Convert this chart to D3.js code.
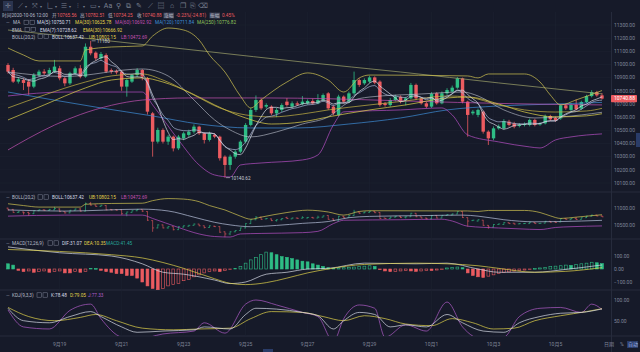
<!DOCTYPE html>
<html>
<head>
<meta charset="utf-8">
<script src="https://cdn.jsdelivr.net/npm/d3@7"></script>
<style>
  body { margin: 0; background: #161a29; overflow: hidden; }
  text { font-family: Roboto, "Noto Sans CJK SC", sans-serif; }
</style>
</head>
<body>
<div id="chart"></div>
<script>
// 4h candles, 2020-09-17 08:00 -> 2020-10-06 12:00
var opens = [10996,10958,10870,10882,10870,10832,10920,10946,10930,10946,
  10971,10895,10857,10933,10971,10908,11135,11090,11047,11072,
  10958,10950,10946,10832,10870,10920,10958,10895,10629,10414,
  10503,10414,10452,10363,10439,10465,10490,10528,10477,10427,
  10465,10452,10300,10237,10300,10338,10414,10541,10655,10730,
  10680,10680,10629,10655,10718,10680,10705,10700,10705,10723,
  10705,10730,10781,10680,10617,10756,10718,10781,10882,10857,
  10870,10902,10870,10705,10692,10730,10756,10730,10743,10845,
  10743,10705,10680,10781,10705,10781,10794,10824,10895,10718,
  10629,10617,10642,10490,10439,10515,10515,10566,10553,10533,
  10541,10541,10579,10545,10553,10609,10595,10591,10690,10655,
  10693,10665,10715,10760,10790,10765.56];
var highs = [11010,10975,10905,10895,10890,10935,10960,10965,10975,11035,
  10990,10905,10945,10985,10995,11160,11180,11100,11095,11085,
  10970,10962,10955,10895,10930,10972,10965,10905,10640,10520,
  10515,10465,10460,10465,10490,10505,10545,10535,10485,10490,
  10478,10460,10310,10315,10350,10425,10555,10670,10765,10745,
  10705,10690,10670,10705,10745,10720,10720,10760,10735,10740,
  10775,10780,10790,10690,10770,10765,10795,10946,10895,10895,
  10915,10910,10880,10715,10745,10770,10765,10755,10860,10855,
  10750,10715,10790,10790,10795,10820,10840,10905,10900,10725,
  10655,10665,10650,10500,10530,10545,10585,10580,10565,10555,
  10560,10590,10588,10562,10620,10618,10605,10700,10700,10705,
  10735,10725,10770,10805,10800,10782.51];
var lows = [10930,10860,10855,10806,10770,10820,10905,10920,10915,10935,
  10880,10835,10845,10920,10895,10900,11070,11030,11035,10935,
  10930,10925,10800,10756,10860,10905,10880,10620,10300,10400,
  10400,10390,10340,10350,10425,10450,10475,10465,10400,10415,
  10440,10270,10140.62,10200,10285,10325,10400,10530,10640,10655,
  10665,10615,10600,10640,10680,10670,10685,10690,10695,10695,
  10698,10720,10655,10615,10605,10705,10710,10770,10830,10845,
  10860,10850,10680,10680,10680,10720,10705,10690,10735,10730,
  10695,10668,10670,10695,10698,10770,10785,10815,10705,10452,
  10615,10600,10475,10389,10425,10505,10505,10530,10515,10522,
  10530,10530,10530,10535,10545,10572,10565,10580,10655,10645,
  10650,10655,10705,10750,10755,10734.25];
var closes = [10946,10870,10887,10860,10832,10920,10946,10933,10958,10984,
  10895,10857,10933,10971,10908,11135,11085,11047,11080,10946,
  10946,10940,10832,10882,10920,10958,10908,10642,10414,10503,
  10414,10452,10363,10452,10477,10490,10528,10477,10427,10477,
  10452,10288,10237,10300,10338,10414,10541,10655,10730,10667,
  10692,10629,10655,10692,10692,10705,10695,10718,10723,10705,
  10730,10768,10667,10629,10756,10718,10781,10882,10845,10882,
  10902,10862,10692,10692,10730,10756,10718,10743,10845,10743,
  10705,10680,10776,10705,10781,10806,10824,10895,10718,10617,
  10642,10655,10490,10439,10515,10530,10571,10541,10528,10541,
  10548,10579,10541,10550,10609,10584,10575,10690,10667,10693,
  10660,10715,10760,10790,10765.56,10740.88];

// long averages, as [candle index, price]
var ma30 = [[0,10579],[7,10693],[15,10822],[20,10882],[26,10898],[30,10867],[35,10791],[40,10693],[46,10594],[51,10548],[57,10564],[62,10602],[70,10655],[77,10693],[85,10746],[89,10753],[95,10700],[100,10639],[106,10602],[112,10610],[115,10626]];
var ema30 = [[0,10670],[7,10768],[15,10867],[20,10913],[26,10928],[30,10882],[36,10768],[41,10670],[46,10617],[51,10602],[57,10624],[62,10655],[70,10693],[77,10723],[85,10761],[89,10753],[95,10693],[100,10655],[106,10639],[112,10647],[115,10667]];
var ma60 = [[0,10351],[4,10440],[9,10540],[14,10620],[20,10690],[26,10730],[35,10746],[50,10746],[62,10740],[75,10725],[87,10712],[98,10702],[115,10693]];
var ma120 = [[0,10791],[18,10670],[28,10609],[37,10548],[47,10518],[56,10518],[66,10548],[76,10594],[85,10655],[95,10685],[106,10700],[115,10712]];
var ma250 = [[0,11262],[19,11182],[38,11101],[57,11019],[76,10943],[95,10860],[115,10777]];
var bollUp = [[0,11125],[3,11072],[6,11027],[14,11027],[15,11110],[20,11133],[26,11141],[28,11216],[31,11277],[34,11262],[37,11186],[39,11072],[42,10943],[45,10760],[47,10670],[49,10731],[54,10867],[58,10936],[62,10882],[65,10791],[68,10898],[70,10920],[89,10913],[91,10898],[93,10928],[100,10928],[103,10867],[105,10768],[107,10693],[110,10731],[115,10802]];
var bollMid = [[0,10943],[11,10909],[26,10966],[31,10913],[36,10731],[40,10579],[43,10503],[47,10450],[52,10488],[57,10548],[62,10602],[66,10715],[70,10753],[80,10776],[88,10791],[91,10761],[96,10655],[102,10594],[107,10602],[115,10637]];
var bollLow = [[0,10761],[11,10791],[26,10791],[28,10693],[33,10427],[37,10237],[40,10161],[43,10146],[45,10237],[49,10252],[57,10275],[60,10313],[63,10541],[65,10640],[76,10655],[84,10670],[86,10617],[89,10465],[95,10412],[101,10374],[103,10366],[106,10427],[109,10450],[115,10473]];

var macdHist = [40,30,-10,-20,-15,-25,-20,-15,-25,-20,
  -15,-30,-30,-20,-25,-20,5,3,-10,-20,
  -25,-35,-35,-50,-50,-70,-100,-130,-150,-160,
  -150,-130,-120,-110,-90,-80,-60,-45,-30,-20,
  -15,-20,-10,-5,5,20,45,70,90,110,
  130,125,110,95,90,80,70,60,55,40,
  30,20,10,5,8,10,12,15,20,22,
  25,20,-5,-15,-20,-18,-15,-12,-15,-18,
  -15,-10,-12,-8,-5,8,12,15,10,-30,
  -50,-60,-65,-55,-45,-35,-28,-22,-16,-12,
  -8,-4,3,8,12,18,22,25,30,28,
  35,40,45,52,48,41.45];
var dif = [[0,170],[10,125],[20,100],[26,40],[30,-25],[34,-40],[40,-85],[43,-112],[46,-100],[50,-40],[54,-25],[58,0],[62,5],[69,45],[79,40],[85,45],[91,0],[95,-25],[102,-25],[108,-3],[115,31.07]];
var dea = [[0,150],[10,135],[20,110],[26,85],[30,50],[34,5],[40,-75],[43,-110],[46,-120],[50,-105],[54,-70],[58,-30],[62,0],[69,35],[79,45],[85,40],[91,25],[95,5],[102,-25],[108,-18],[115,10.35]];

var kLine = [[0,80],[3,50],[8,45],[12,60],[16,72],[18,60],[22,35],[25,22],[30,25],[36,28],[38,35],[43,30],[46,65],[48,80],[52,78],[57,70],[60,62],[63,30],[65,50],[68,70],[71,65],[74,35],[77,40],[81,35],[85,65],[88,45],[92,25],[96,22],[99,45],[103,60],[107,68],[111,70],[115,78.48]];
var dLine = [[0,82],[4,60],[9,50],[14,58],[17,65],[21,50],[26,32],[32,28],[37,30],[43,32],[47,55],[51,72],[57,70],[61,60],[65,50],[69,62],[73,55],[77,42],[82,38],[86,55],[90,45],[94,30],[98,32],[102,50],[107,62],[112,72],[115,79.05]];
var jLine = [[0,76],[3,35],[8,30],[12,75],[16,90],[18,55],[22,10],[25,5],[30,18],[36,25],[38,45],[42,20],[46,90],[48,100],[52,88],[57,70],[60,60],[63,0],[65,55],[68,88],[71,80],[73,10],[77,40],[81,25],[85,95],[88,35],[92,5],[96,10],[99,60],[103,80],[107,82],[111,70],[113,90],[115,77.33]];

var priceTicks = [10100,10200,10300,10400,10500,10600,10700,10800,10900,11000,11100,11200,11300];
var bollTicks = [10500, 11000];
var macdTicks = [-100, 0, 100];
var kdjTicks = [50, 100];
var dateTicks = ["2020-09-19","2020-09-21","2020-09-23","2020-09-25","2020-09-27","2020-09-29","2020-10-01","2020-10-03","2020-10-05"];

var W = 640, H = 352;
var bg = "#161a29", upColor = "#2ebd85", downColor = "#ec5b60";
var axisColor = "#80869a", sepColor = "#262b3c";
var white = "#d9dde8", yellow = "#e3d44a", magenta = "#c451b4", blue = "#3e8ed8";

var svg = d3.select("#chart").append("svg").attr("width", W).attr("height", H);
svg.append("rect").attr("width", W).attr("height", H).attr("fill", bg);

var startTime = new Date(2020, 8, 17, 8);
function timeAt(i) { return new Date(startTime.getTime() + i * 4 * 3600 * 1000); }
var n = closes.length;
var x = d3.scaleTime().domain([timeAt(0), timeAt(n - 1)]).range([8, 602]);
function xi(i) { return x(timeAt(i)); }

var yMain = d3.scaleLinear().domain([10100, 11300]).range([183, 25]);
var yBoll = d3.scaleLinear().domain([10500, 11000]).range([225, 208]);
var yMacd = d3.scaleLinear().domain([-100, 100]).range([282, 256]);
var yKdj = d3.scaleLinear().domain([50, 100]).range([320.7, 300]);

// clip areas for each pane
var defs = svg.append("defs");
function clip(id, top, bottom) {
  defs.append("clipPath").attr("id", id).append("rect")
    .attr("x", 0).attr("y", top).attr("width", 611).attr("height", bottom - top);
  return svg.append("g").attr("clip-path", "url(#" + id + ")");
}

// separators
[192, 239, 290, 336].forEach(function(y) {
  svg.append("line").attr("x1", 0).attr("x2", W).attr("y1", y).attr("y2", y)
    .attr("stroke", sepColor).attr("stroke-width", 1);
});
svg.append("line").attr("x1", 611.5).attr("x2", 611.5).attr("y1", 12).attr("y2", 352)
  .attr("stroke", sepColor);

// faint grid
priceTicks.forEach(function(p) {
  svg.append("line").attr("x1", 0).attr("x2", 611).attr("y1", yMain(p)).attr("y2", yMain(p))
    .attr("stroke", "#1c2131").attr("stroke-width", 0.6);
});
var dates = dateTicks.map(function(s) { var a = s.split("-"); return new Date(+a[0], +a[1] - 1, +a[2]); });
dates.forEach(function(d) {
  svg.append("line").attr("x1", x(d)).attr("x2", x(d)).attr("y1", 12).attr("y2", 336)
    .attr("stroke", "#1c2131").attr("stroke-width", 0.6);
});

function lineOf(pts, yScale, color, w, g) {
  g.append("path").datum(pts)
    .attr("fill", "none").attr("stroke", color).attr("stroke-width", w || 0.7)
    .attr("d", d3.line()
      .x(function(d) { return xi(d[0]); })
      .y(function(d) { return yScale(d[1]); })
      .curve(d3.curveMonotoneX));
}

// ---- main pane
var main = clip("clipMain", 12, 192);
main.selectAll(".wick").data(d3.range(n)).join("line")
  .attr("x1", xi).attr("x2", xi)
  .attr("y1", function(i) { return yMain(highs[i]); })
  .attr("y2", function(i) { return yMain(lows[i]); })
  .attr("stroke", function(i) { return closes[i] >= opens[i] ? upColor : downColor; })
  .attr("stroke-width", 0.8);
main.selectAll(".body").data(d3.range(n)).join("rect")
  .attr("x", function(i) { return xi(i) - 1.7; })
  .attr("width", 3.4)
  .attr("y", function(i) { return yMain(Math.max(opens[i], closes[i])); })
  .attr("height", function(i) { return Math.max(0.8, Math.abs(yMain(opens[i]) - yMain(closes[i]))); })
  .attr("fill", function(i) { return closes[i] >= opens[i] ? upColor : downColor; });

var ma5 = closes.map(function(c, i) { return [i, d3.mean(closes.slice(Math.max(0, i - 4), i + 1))]; });
var ema7 = [];
closes.forEach(function(c, i) {
  var prev = i ? ema7[i - 1][1] : c;
  ema7.push([i, prev + (c - prev) * 2 / 8]);
});

lineOf(ma250, yMain, "#a2a66c", 0.7, main);
lineOf(ma120, yMain, blue, 0.7, main);
lineOf(ma60, yMain, magenta, 0.7, main);
lineOf(bollLow, yMain, "#b64fc4", 0.7, main);
lineOf(bollUp, yMain, "#d3c552", 0.7, main);
lineOf(bollMid, yMain, "#c3c8d4", 0.6, main);
lineOf(ma30, yMain, yellow, 0.7, main);
lineOf(ema30, yMain, "#c7b544", 0.7, main);
lineOf(ema7, yMain, "#a9b6d6", 0.7, main);
lineOf(ma5, yMain, white, 0.7, main);

// high / low marks
function mark(i, price, label) {
  var px = xi(i), py = yMain(price);
  svg.append("line").attr("x1", px + 1).attr("x2", px + 5).attr("y1", py).attr("y2", py)
    .attr("stroke", "#c8ccd6").attr("stroke-width", 0.6);
  svg.append("text").attr("x", px + 6).attr("y", py + 2.4).attr("font-size", 4.7)
    .attr("fill", "#c8ccd6").text(label);
}
mark(16, highs[16], "11180");
mark(42, lows[42], "10140.62");

// ---- BOLL pane (bars)
var bp = clip("clipBoll", 192, 239);
bp.selectAll(".hl").data(d3.range(n)).join("line")
  .attr("x1", xi).attr("x2", xi)
  .attr("y1", function(i) { return yBoll(highs[i]); })
  .attr("y2", function(i) { return yBoll(lows[i]); })
  .attr("stroke", function(i) { return closes[i] >= opens[i] ? upColor : downColor; })
  .attr("stroke-width", 0.6);
bp.selectAll(".op").data(d3.range(n)).join("line")
  .attr("x1", function(i) { return xi(i) - 1.5; }).attr("x2", xi)
  .attr("y1", function(i) { return yBoll(opens[i]); })
  .attr("y2", function(i) { return yBoll(opens[i]); })
  .attr("stroke", function(i) { return closes[i] >= opens[i] ? upColor : downColor; })
  .attr("stroke-width", 0.6);
bp.selectAll(".cl").data(d3.range(n)).join("line")
  .attr("x1", xi).attr("x2", function(i) { return xi(i) + 1.5; })
  .attr("y1", function(i) { return yBoll(closes[i]); })
  .attr("y2", function(i) { return yBoll(closes[i]); })
  .attr("stroke", function(i) { return closes[i] >= opens[i] ? upColor : downColor; })
  .attr("stroke-width", 0.6);
lineOf(bollUp, yBoll, "#d3c552", 0.7, bp);
lineOf(bollMid, yBoll, "#b9c3dc", 0.7, bp);
lineOf(bollLow, yBoll, "#b64fc4", 0.7, bp);

// ---- MACD pane
var mp = clip("clipMacd", 239, 290);
mp.selectAll("rect").data(macdHist).join("rect")
  .attr("x", function(d, i) { return xi(i) - 1.4; })
  .attr("width", 2.8)
  .attr("y", function(d) { return yMacd(Math.max(0, d)); })
  .attr("height", function(d) { return Math.max(0.6, Math.abs(yMacd(d) - yMacd(0))); })
  .attr("fill", function(d, i) {
    var rising = i > 0 && d > macdHist[i - 1];
    return rising ? "none" : (d >= 0 ? upColor : downColor);
  })
  .attr("stroke", function(d) { return d >= 0 ? upColor : downColor; })
  .attr("stroke-width", 0.6);
lineOf(dif, yMacd, white, 0.7, mp);
lineOf(dea, yMacd, yellow, 0.7, mp);

// ---- KDJ pane
var kp = clip("clipKdj", 290, 336);
lineOf(jLine, yKdj, "#b05cc9", 0.7, kp);
lineOf(dLine, yKdj, yellow, 0.7, kp);
lineOf(kLine, yKdj, white, 0.7, kp);

// ---- right axes
function axisLabels(ticks, yScale, fmt) {
  ticks.forEach(function(t) {
    svg.append("text").attr("x", 614).attr("y", yScale(t) + 1.8)
      .attr("font-size", 5).attr("fill", axisColor).text(fmt(t));
  });
}
var f2 = d3.format(".2f");
axisLabels(priceTicks, yMain, f2);
axisLabels(bollTicks, yBoll, f2);
axisLabels(macdTicks, yMacd, f2);
axisLabels(kdjTicks, yKdj, f2);

// last price tag
var last = closes[n - 1];
svg.append("rect").attr("x", 611).attr("y", yMain(last) - 3.6).attr("width", 26).attr("height", 7.2)
  .attr("fill", downColor).attr("rx", 0.8);
svg.append("text").attr("x", 614).attr("y", yMain(last) + 1.8).attr("font-size", 5)
  .attr("fill", "#ffffff").text(f2(last));

// ---- date axis
dates.forEach(function(d) {
  svg.append("text").attr("x", x(d)).attr("y", 346).attr("text-anchor", "middle")
    .attr("font-size", 5).attr("fill", axisColor)
    .text((d.getMonth() + 1) + "月" + d.getDate());
});
svg.append("text").attr("x", 604).attr("y", 346).attr("font-size", 5).attr("fill", axisColor).text("日期");
svg.append("text").attr("x", 620).attr("y", 346).attr("font-size", 5).attr("fill", axisColor).text("%");
svg.append("rect").attr("x", 627).attr("y", 341).attr("width", 11).attr("height", 7).attr("fill", "#2a3c68");
svg.append("text").attr("x", 628).attr("y", 346.3).attr("font-size", 5).attr("fill", "#9fb4e6").text("自动");
svg.append("rect").attr("x", 636).attr("y", 133).attr("width", 4).attr("height", 14).attr("fill", "#2a3c68");
svg.append("rect").attr("x", 263).attr("y", 349).attr("width", 10).attr("height", 3).attr("fill", "#2a3c68");

// ---- legends
function legend(y, items) {
  items.forEach(function(it) {
    if (it[1] === "icons") {
      [0, 6].forEach(function(dx) {
        svg.append("rect").attr("x", it[0] + dx).attr("y", y - 4.2).attr("width", 4.4).attr("height", 4.4)
          .attr("fill", "none").attr("stroke", axisColor).attr("stroke-width", 0.5);
      });
      return;
    }
    if (it[3]) {
      svg.append("rect").attr("x", it[0] - 0.6).attr("y", y - 4.4).attr("width", 10.6).attr("height", 5.8)
        .attr("fill", "#3a3f52");
    }
    svg.append("text").attr("x", it[0]).attr("y", y).attr("font-size", 4.7)
      .attr("fill", it[2]).text(it[1]);
  });
}
var lab = "#b9bdc9";
legend(17, [[2, "时间2020-10-06 12:00", lab], [52, "开", lab], [57, "10765.56", downColor],
  [80, "高", lab], [85, "10782.51", downColor], [108, "低", lab], [113, "10734.25", downColor],
  [137, "收", lab], [142, "10740.88", downColor], [164, "涨幅", lab, true], [176, "-0.23%(-24.81)", downColor],
  [210, "振幅", lab, true], [222, "0.45%", downColor]]);
legend(24.4, [[6, "—", axisColor], [13, "MA", lab], [24, "icons"], [37, "MA(5):10750.71", white],
  [75, "MA(30):10625.78", yellow], [115, "MA(60):10692.92", magenta],
  [155, "MA(120):10711.84", blue], [197, "MA(250):10776.82", "#8fc35a"]]);
legend(31.5, [[12, "EMA", lab], [25, "icons"], [40, "EMA(7):10728.62", white], [83, "EMA(30):10666.92", yellow]]);
legend(38.5, [[12, "BOLL(20,2)", lab], [38, "icons"], [52, "BOLL:10637.42", white],
  [89, "UB:10802.15", yellow], [121, "LB:10472.69", magenta]]);
legend(199, [[6, "—", axisColor], [12, "BOLL(20,2)", lab], [38, "icons"], [52, "BOLL:10637.42", white],
  [89, "UB:10802.15", yellow], [121, "LB:10472.69", magenta]]);
legend(245, [[6, "—", axisColor], [12, "MACD(12,26,9)", lab], [48, "icons"], [62, "DIF:31.07", white],
  [84, "DEA:10.35", yellow], [106, "MACD:41.45", "#26a69a"]]);
legend(297, [[6, "—", axisColor], [12, "KDJ(9,3,3)", lab], [37, "icons"], [51, "K:78.48", white],
  [70, "D:79.05", yellow], [88, "J:77.33", "#b05cc9"]]);

// ---- toolbar
svg.append("rect").attr("x", 3).attr("y", 1).attr("width", 10).attr("height", 10).attr("fill", "#2b3550");
var tools = ["✛", "⟋", "⤧", "∟", "≡", "⫶", "▭", "Aa", "⚲", "⧉", "✎", "⟋", "▤", "⌂", "❐", "⎘", "⌫"];
var toolX = [8, 20, 35, 50, 64, 78, 93, 108, 118, 128, 139, 150, 161, 172, 183, 193, 203];
tools.forEach(function(t, i) {
  svg.append("text").attr("x", toolX[i]).attr("y", 8.3).attr("text-anchor", "middle")
    .attr("font-size", 7).attr("font-family", "DejaVu Sans").attr("fill", "#7a8092").text(t);
  if (i > 0 && i < 7) {
    svg.append("text").attr("x", toolX[i] + 6).attr("y", 8).attr("text-anchor", "middle")
      .attr("font-size", 4).attr("font-family", "DejaVu Sans").attr("fill", "#7a8092").text("▾");
  }
});
</script>
</body>
</html>
